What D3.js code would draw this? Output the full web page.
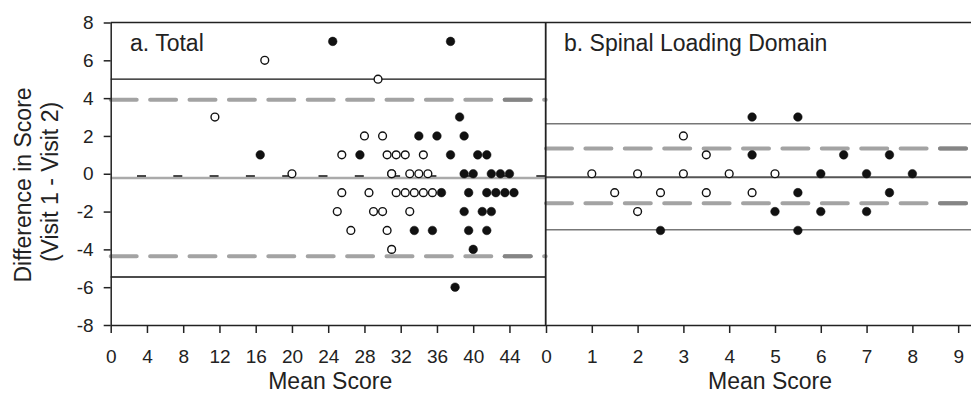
<!DOCTYPE html>
<html>
<head>
<meta charset="utf-8">
<script src="https://cdn.jsdelivr.net/npm/d3@7"></script>
<style>
  body { margin: 0; background: #fff; }
  svg { display: block; font-family: "Liberation Sans", Arial, sans-serif; }
</style>
</head>
<body>
<div id="graph"></div>
<script>
// panel a. Total : [mean score, difference]
const totalOpen = [
  [17, 6], [29.5, 5], [11.5, 3], [28, 2], [30, 2],
  [25.5, 1], [30.5, 1], [31.5, 1], [32.5, 1], [34.5, 1],
  [20, 0], [31, 0], [31, 0], [33, 0], [34, 0], [35, 0],
  [25.5, -1], [28.5, -1], [31.5, -1], [32.5, -1], [33.5, -1], [34.5, -1], [35.5, -1],
  [25, -2], [29, -2], [30, -2], [33, -2],
  [26.5, -3], [30.5, -3], [31, -4]
]
const totalFilled = [
  [24.5, 7], [37.5, 7], [38.5, 3], [34, 2], [36, 2], [39, 2],
  [16.5, 1], [27.5, 1], [37.5, 1], [40.5, 1], [41.5, 1],
  [39, 0], [40, 0], [42, 0], [43, 0], [44, 0],
  [36.5, -1], [39.5, -1], [41.5, -1], [42.5, -1], [43.5, -1], [44.5, -1],
  [39, -2], [41, -2], [42, -2],
  [33.5, -3], [35.5, -3], [39.5, -3], [41.5, -3],
  [40, -4], [38, -6]
]
const totalSolid = [5.0, -5.46]
const totalDashed = [3.92, -4.36]
const totalMeanDiff = -0.22

// panel b. Spinal Loading Domain
const spinalOpen = [
  [3, 2], [3.5, 1], [1, 0], [2, 0], [3, 0], [4, 0], [5, 0],
  [1.5, -1], [2.5, -1], [3.5, -1], [4.5, -1], [2, -2]
]
const spinalFilled = [
  [4.5, 3], [5.5, 3], [4.5, 1], [6.5, 1], [7.5, 1],
  [6, 0], [7, 0], [8, 0], [5.5, -1], [7.5, -1],
  [5, -2], [6, -2], [7, -2], [2.5, -3], [5.5, -3]
]
const spinalSolid = [2.65, -2.96]
const spinalDashed = [1.33, -1.56]
const spinalMeanDiff = -0.18

const totalTicks = [0, 4, 8, 12, 16, 20, 24, 28, 32, 36, 40, 44]
const spinalTicks = [0, 1, 2, 3, 4, 5, 6, 7, 8, 9]
const yTicks = [-8, -6, -4, -2, 0, 2, 4, 6, 8]

const width = 971
const height = 396
const plotTop = 22.5
const plotBottom = 325
const leftA = 110.7
const split = 545.7

const y = d3.scaleLinear().domain([-8, 8]).range([plotBottom, plotTop])
const xA = d3.scaleLinear().domain([0, 48]).range([leftA, split])
const xB = d3.scaleLinear().domain([0, 9.28]).range([546, width])

const ink = "#222"
const svg = d3.create("svg")
              .attr("width", width)
              .attr("height", height)
              .attr("viewBox", `0 0 ${width} ${height}`)

// dashed limit lines, last dash drawn darker
const dash = 26, period = 39.4
function dashedLine(x, v) {
  const [x0, x1] = x.range()
  svg.append("line")
     .attr("x1", x0).attr("x2", x1)
     .attr("y1", y(v)).attr("y2", y(v))
     .attr("stroke", "#a3a3a3")
     .attr("stroke-width", 4)
     .attr("stroke-linecap", "round")
     .attr("stroke-dasharray", `${dash},${period - dash}`)
  const k = Math.floor((x1 - x0 - dash) / period)
  svg.append("line")
     .attr("x1", x0 + k * period).attr("x2", x0 + k * period + dash)
     .attr("y1", y(v)).attr("y2", y(v))
     .attr("stroke", "#858585")
     .attr("stroke-width", 4)
     .attr("stroke-linecap", "round")
}

function solidLine(x, v, color, w) {
  svg.append("line")
     .attr("x1", x.range()[0]).attr("x2", x.range()[1])
     .attr("y1", y(v)).attr("y2", y(v))
     .attr("stroke", color)
     .attr("stroke-width", w)
}

// panel a lines
totalSolid.forEach(v => solidLine(xA, v, "#111", 1.3))
totalDashed.forEach(v => dashedLine(xA, v))
solidLine(xA, totalMeanDiff, "#aaa", 2.5)
svg.append("line")
   .attr("x1", leftA).attr("x2", split)
   .attr("y1", y(totalMeanDiff + 0.1)).attr("y2", y(totalMeanDiff + 0.1))
   .attr("stroke", "#111")
   .attr("stroke-width", 1.4)
   .attr("stroke-dasharray", "9,27.3")
   .attr("stroke-dashoffset", 10)

// panel b lines
spinalSolid.forEach(v => solidLine(xB, v, "#777", 1.5))
spinalDashed.forEach(v => dashedLine(xB, v))
solidLine(xB, spinalMeanDiff, "#555", 2)

// axes (plain hyphen for negatives)
const fmt = d => String(d)

const yAxis = svg.append("g")
   .attr("transform", `translate(${leftA},0)`)
   .call(d3.axisLeft(y).tickValues(yTicks).tickFormat(fmt)
           .tickSize(7).tickPadding(10).tickSizeOuter(0))

const xAxisA = svg.append("g")
   .attr("transform", `translate(0,${plotBottom})`)
   .call(d3.axisBottom(xA).tickValues(totalTicks).tickFormat(fmt)
           .tickSize(8).tickPadding(17).tickSizeOuter(0))

const xAxisB = svg.append("g")
   .attr("transform", `translate(0,${plotBottom})`)
   .call(d3.axisBottom(xB).tickValues(spinalTicks).tickFormat(fmt)
           .tickSize(8).tickPadding(17).tickSizeOuter(0))

for (const g of [yAxis, xAxisA, xAxisB]) {
  g.attr("font-size", 19).attr("font-family", null)
  g.selectAll("path, line").attr("stroke", ink).attr("stroke-width", 1.5)
  g.selectAll("text").attr("fill", ink)
}

// frame: top edge and panel divider
svg.append("line")
   .attr("x1", leftA).attr("x2", width)
   .attr("y1", plotTop).attr("y2", plotTop)
   .attr("stroke", ink).attr("stroke-width", 1.5)
svg.append("line")
   .attr("x1", split).attr("x2", split)
   .attr("y1", plotTop).attr("y2", plotBottom)
   .attr("stroke", ink).attr("stroke-width", 1.8)

// dots
function dots(x, data, filled) {
  svg.append("g")
     .selectAll("circle")
     .data(data)
     .join("circle")
     .attr("cx", d => x(d[0]))
     .attr("cy", d => y(d[1]))
     .attr("r", filled ? 4.3 : 3.9)
     .attr("fill", filled ? "#111" : "#fff")
     .attr("stroke", "#111")
     .attr("stroke-width", filled ? 0.5 : 1.4)
}
dots(xA, totalOpen, false)
dots(xA, totalFilled, true)
dots(xB, spinalOpen, false)
dots(xB, spinalFilled, true)

// panel labels
svg.append("text")
   .attr("x", 130).attr("y", 51)
   .attr("font-size", 23).attr("fill", ink)
   .text("a. Total")
svg.append("text")
   .attr("x", 564).attr("y", 51)
   .attr("font-size", 23).attr("fill", ink)
   .text("b. Spinal Loading Domain")

// axis titles
svg.append("text")
   .attr("x", (leftA + split) / 2 + 2).attr("y", 389)
   .attr("text-anchor", "middle")
   .attr("font-size", 23).attr("fill", ink)
   .text("Mean Score")
svg.append("text")
   .attr("x", 770).attr("y", 389)
   .attr("text-anchor", "middle")
   .attr("font-size", 23).attr("fill", ink)
   .text("Mean Score")

svg.append("text")
   .attr("transform", "translate(23,185) rotate(-90)")
   .attr("text-anchor", "middle")
   .attr("dy", "0.35em")
   .attr("font-size", 23).attr("fill", ink)
   .text("Difference in Score")
svg.append("text")
   .attr("transform", "translate(50,182) rotate(-90)")
   .attr("text-anchor", "middle")
   .attr("dy", "0.35em")
   .attr("font-size", 23).attr("fill", ink)
   .text("(Visit 1 - Visit 2)")

document.getElementById("graph").append(svg.node())
</script>
</body>
</html>
